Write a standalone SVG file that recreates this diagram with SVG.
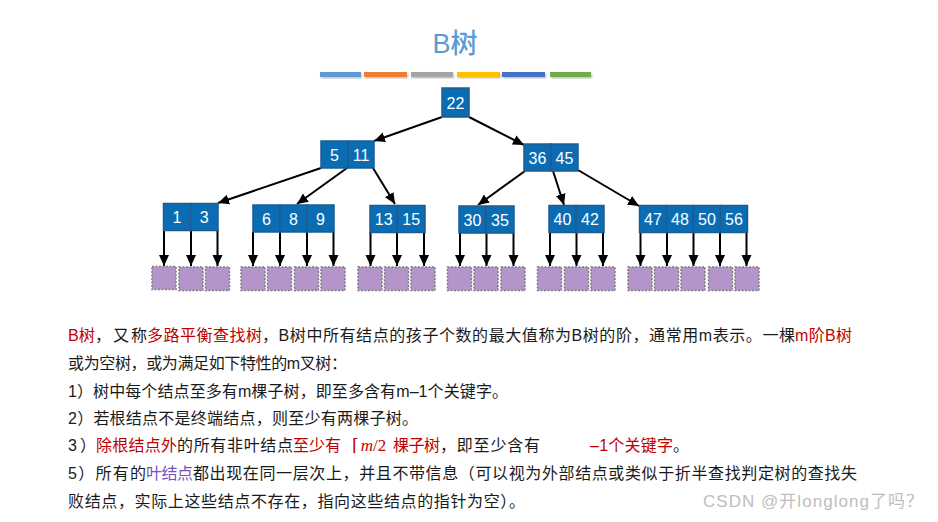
<svg xmlns="http://www.w3.org/2000/svg" width="938" height="522" viewBox="0 0 938 522">
<defs>
<marker id="ah" markerUnits="userSpaceOnUse" markerWidth="12" markerHeight="12" viewBox="0 0 12 12" refX="11" refY="6" orient="auto">
<path d="M0,1 L11,6 L0,11 Z" fill="#000"/>
</marker>
<filter id="sh" x="-10%" y="-10%" width="130%" height="140%">
<feDropShadow dx="1" dy="1.5" stdDeviation="1" flood-color="#000" flood-opacity="0.25"/>
</filter>
</defs>
<style>
.k{fill:#0a6db4;stroke:#1f5b8e;stroke-width:1.5}
.kt{font-family:"Liberation Sans",Arial,sans-serif;font-size:16px;fill:#fff;text-anchor:middle}
.lf{fill:#b394cb;stroke:#7d7d7d;stroke-width:1.5;stroke-dasharray:2 1.5}
.c{stroke:#000;stroke-width:2;fill:none;marker-end:url(#ah)}
.t{font-family:"Liberation Sans","Noto Sans CJK SC",sans-serif;font-size:16px;fill:#1a1a1a}
.r{fill:#c00000}
.p{fill:#7a4fbf}
</style>
<rect width="938" height="522" fill="#fff"/>
<g id="title">
<text x="455" y="53" text-anchor="middle" style="font-family:'Liberation Sans','Noto Sans CJK SC',sans-serif;font-size:27px;font-weight:500;fill:#5b9bd5">B树</text>
<g filter="url(#sh)">
<rect x="320" y="72" width="41" height="5" fill="#5b9bd5"/>
<rect x="364" y="72" width="43" height="5" fill="#ed7d31"/>
<rect x="411" y="72" width="42" height="5" fill="#a5a5a5"/>
<rect x="457" y="72" width="43" height="5" fill="#ffc000"/>
<rect x="502" y="72" width="43" height="5" fill="#4472c4"/>
<rect x="550" y="72" width="41" height="5" fill="#70ad47"/>
</g>
</g>
<g id="connectors">
<line class="c" x1="442" y1="117" x2="374" y2="141"/>
<line class="c" x1="469" y1="117" x2="524" y2="145"/>
<line class="c" x1="321" y1="168" x2="218" y2="203"/>
<line class="c" x1="347" y1="168" x2="297" y2="204"/>
<line class="c" x1="373" y1="168" x2="395" y2="204"/>
<line class="c" x1="525" y1="171" x2="478" y2="205"/>
<line class="c" x1="553" y1="171" x2="564" y2="205"/>
<line class="c" x1="578" y1="170" x2="639" y2="206"/>
<line class="c" x1="164" y1="230" x2="164" y2="266"/>
<line class="c" x1="191" y1="230" x2="191" y2="266"/>
<line class="c" x1="217.5" y1="230" x2="217.5" y2="266"/>
<line class="c" x1="253" y1="232" x2="253" y2="266"/>
<line class="c" x1="280" y1="232" x2="280" y2="266"/>
<line class="c" x1="307" y1="232" x2="307" y2="266"/>
<line class="c" x1="333.5" y1="232" x2="333.5" y2="266"/>
<line class="c" x1="370.5" y1="232" x2="370.5" y2="266"/>
<line class="c" x1="397" y1="232" x2="397" y2="266"/>
<line class="c" x1="424" y1="232" x2="424" y2="266"/>
<line class="c" x1="460" y1="233" x2="460" y2="266"/>
<line class="c" x1="486.5" y1="233" x2="486.5" y2="266"/>
<line class="c" x1="513.5" y1="233" x2="513.5" y2="266"/>
<line class="c" x1="550" y1="232" x2="550" y2="266"/>
<line class="c" x1="576.5" y1="232" x2="576.5" y2="266"/>
<line class="c" x1="603" y1="232" x2="603" y2="266"/>
<line class="c" x1="640.5" y1="232" x2="640.5" y2="266"/>
<line class="c" x1="667" y1="232" x2="667" y2="266"/>
<line class="c" x1="693.5" y1="232" x2="693.5" y2="266"/>
<line class="c" x1="720" y1="232" x2="720" y2="266"/>
<line class="c" x1="746.5" y1="232" x2="746.5" y2="266"/>
</g>
<g id="n22"><rect class="k" x="442" y="88" width="27" height="29"/><text class="kt" x="455.5" y="108.5">22</text></g>
<g id="n5_11"><rect class="k" x="321" y="141" width="27" height="27"/><rect class="k" x="348" y="141" width="26" height="27"/><text class="kt" x="334.5" y="160.5">5</text><text class="kt" x="361" y="160.5">11</text></g>
<g id="n36_45"><rect class="k" x="524" y="144" width="27" height="27"/><rect class="k" x="551" y="144" width="27" height="27"/><text class="kt" x="537.5" y="163.5">36</text><text class="kt" x="564.5" y="163.5">45</text></g>
<g id="n1_3"><rect class="k" x="163.5" y="203.5" width="27" height="27"/><rect class="k" x="190.5" y="203.5" width="27.5" height="27"/><text class="kt" x="177" y="223">1</text><text class="kt" x="204.2" y="223">3</text></g>
<g id="n6_8_9"><rect class="k" x="253" y="205" width="27" height="27"/><rect class="k" x="280" y="205" width="27" height="27"/><rect class="k" x="307" y="205" width="27" height="27"/><text class="kt" x="266.5" y="224.5">6</text><text class="kt" x="293.5" y="224.5">8</text><text class="kt" x="320.5" y="224.5">9</text></g>
<g id="n13_15"><rect class="k" x="370" y="205.5" width="27.5" height="27"/><rect class="k" x="397.5" y="205.5" width="27.5" height="27"/><text class="kt" x="383.7" y="225">13</text><text class="kt" x="411.2" y="225">15</text></g>
<g id="n30_35"><rect class="k" x="459" y="206" width="27" height="27"/><rect class="k" x="486" y="206" width="28" height="27"/><text class="kt" x="472.5" y="225.5">30</text><text class="kt" x="500" y="225.5">35</text></g>
<g id="n40_42"><rect class="k" x="549" y="205.5" width="27" height="27"/><rect class="k" x="576" y="205.5" width="28" height="27"/><text class="kt" x="562.5" y="225">40</text><text class="kt" x="590" y="225">42</text></g>
<g id="n47_56"><rect class="k" x="639.5" y="205.5" width="27" height="27"/><rect class="k" x="666.5" y="205.5" width="27" height="27"/><rect class="k" x="693.5" y="205.5" width="27" height="27"/><rect class="k" x="720.5" y="205.5" width="27" height="27"/><text class="kt" x="653" y="225">47</text><text class="kt" x="680" y="225">48</text><text class="kt" x="707" y="225">50</text><text class="kt" x="734" y="225">56</text></g>
<g id="leaves">
<rect class="lf" x="152" y="266.5" width="24" height="23"/>
<rect class="lf" x="179" y="267" width="24" height="23.5"/>
<rect class="lf" x="205.5" y="267" width="24" height="23.5"/>
<rect class="lf" x="241" y="267" width="24" height="23.5"/>
<rect class="lf" x="267.5" y="267" width="24" height="23.5"/>
<rect class="lf" x="294.5" y="267" width="24" height="23.5"/>
<rect class="lf" x="321" y="267" width="24" height="23.5"/>
<rect class="lf" x="358" y="267" width="24" height="23.5"/>
<rect class="lf" x="384.5" y="267" width="24" height="23.5"/>
<rect class="lf" x="411" y="267" width="24" height="23.5"/>
<rect class="lf" x="447.5" y="267" width="24" height="23.5"/>
<rect class="lf" x="474" y="267" width="24" height="23.5"/>
<rect class="lf" x="501" y="267" width="24" height="23.5"/>
<rect class="lf" x="537.5" y="267" width="24" height="23.5"/>
<rect class="lf" x="564.5" y="267" width="24" height="23.5"/>
<rect class="lf" x="591" y="267" width="24" height="23.5"/>
<rect class="lf" x="628" y="267" width="24" height="23.5"/>
<rect class="lf" x="654.5" y="267" width="24" height="23.5"/>
<rect class="lf" x="681" y="267" width="24" height="23.5"/>
<rect class="lf" x="708.5" y="267" width="24" height="23.5"/>
<rect class="lf" x="735" y="267" width="24" height="23.5"/>
</g>
<g id="text">
<text class="t r" x="68" y="341" textLength="27" lengthAdjust="spacingAndGlyphs">B树</text>
<text class="t" x="95" y="341" textLength="52">，又称</text>
<text class="t r" x="147" y="341" textLength="115">多路平衡查找树</text>
<text class="t" x="262" y="341" textLength="533">，B树中所有结点的孩子个数的最大值称为B树的阶，通常用m表示。一棵</text>
<text class="t r" x="795" y="341" textLength="57">m阶B树</text>
<text class="t" x="68" y="369" textLength="279">或为空树，或为满足如下特性的m叉树：</text>
<text class="t" x="68" y="397" textLength="440">1）树中每个结点至多有m棵子树，即至多含有m–1个关键字。</text>
<text class="t" x="68" y="424" textLength="350">2）若根结点不是终端结点，则至少有两棵子树。</text>
<text class="t" x="68" y="451" textLength="28">3）</text>
<text class="t r" x="96" y="451" textLength="81">除根结点外</text>
<text class="t" x="177" y="451" textLength="116">的所有非叶结点</text>
<text class="t r" x="293" y="451" textLength="48">至少有</text>
<text class="r" x="352" y="451" style="font-family:'Liberation Serif','DejaVu Serif',serif;font-size:17px">⌈<tspan font-style="italic" dx="2">m</tspan>/2</text>
<text class="t r" x="393" y="451" textLength="47">棵子树</text>
<text class="t" x="440" y="451" textLength="100">，即至少含有</text>
<text class="t r" x="590" y="451" textLength="83">–1个关键字</text>
<text class="t" x="673" y="451">。</text>
<text class="t" x="68" y="479" textLength="78">5）所有的</text>
<text class="t p" x="146" y="479" textLength="47">叶结点</text>
<text class="t" x="193" y="479" textLength="664">都出现在同一层次上，并且不带信息（可以视为外部结点或类似于折半查找判定树的查找失</text>
<text class="t" x="68" y="507" textLength="457">败结点，实际上这些结点不存在，指向这些结点的指针为空）。</text>
</g>
<g id="watermark">
<text x="703" y="507" textLength="220" style="font-family:'Liberation Sans','Noto Sans CJK SC',sans-serif;font-size:17px;fill:#bdbdbd">CSDN @开longlong了吗？</text>
</g>
</svg>
